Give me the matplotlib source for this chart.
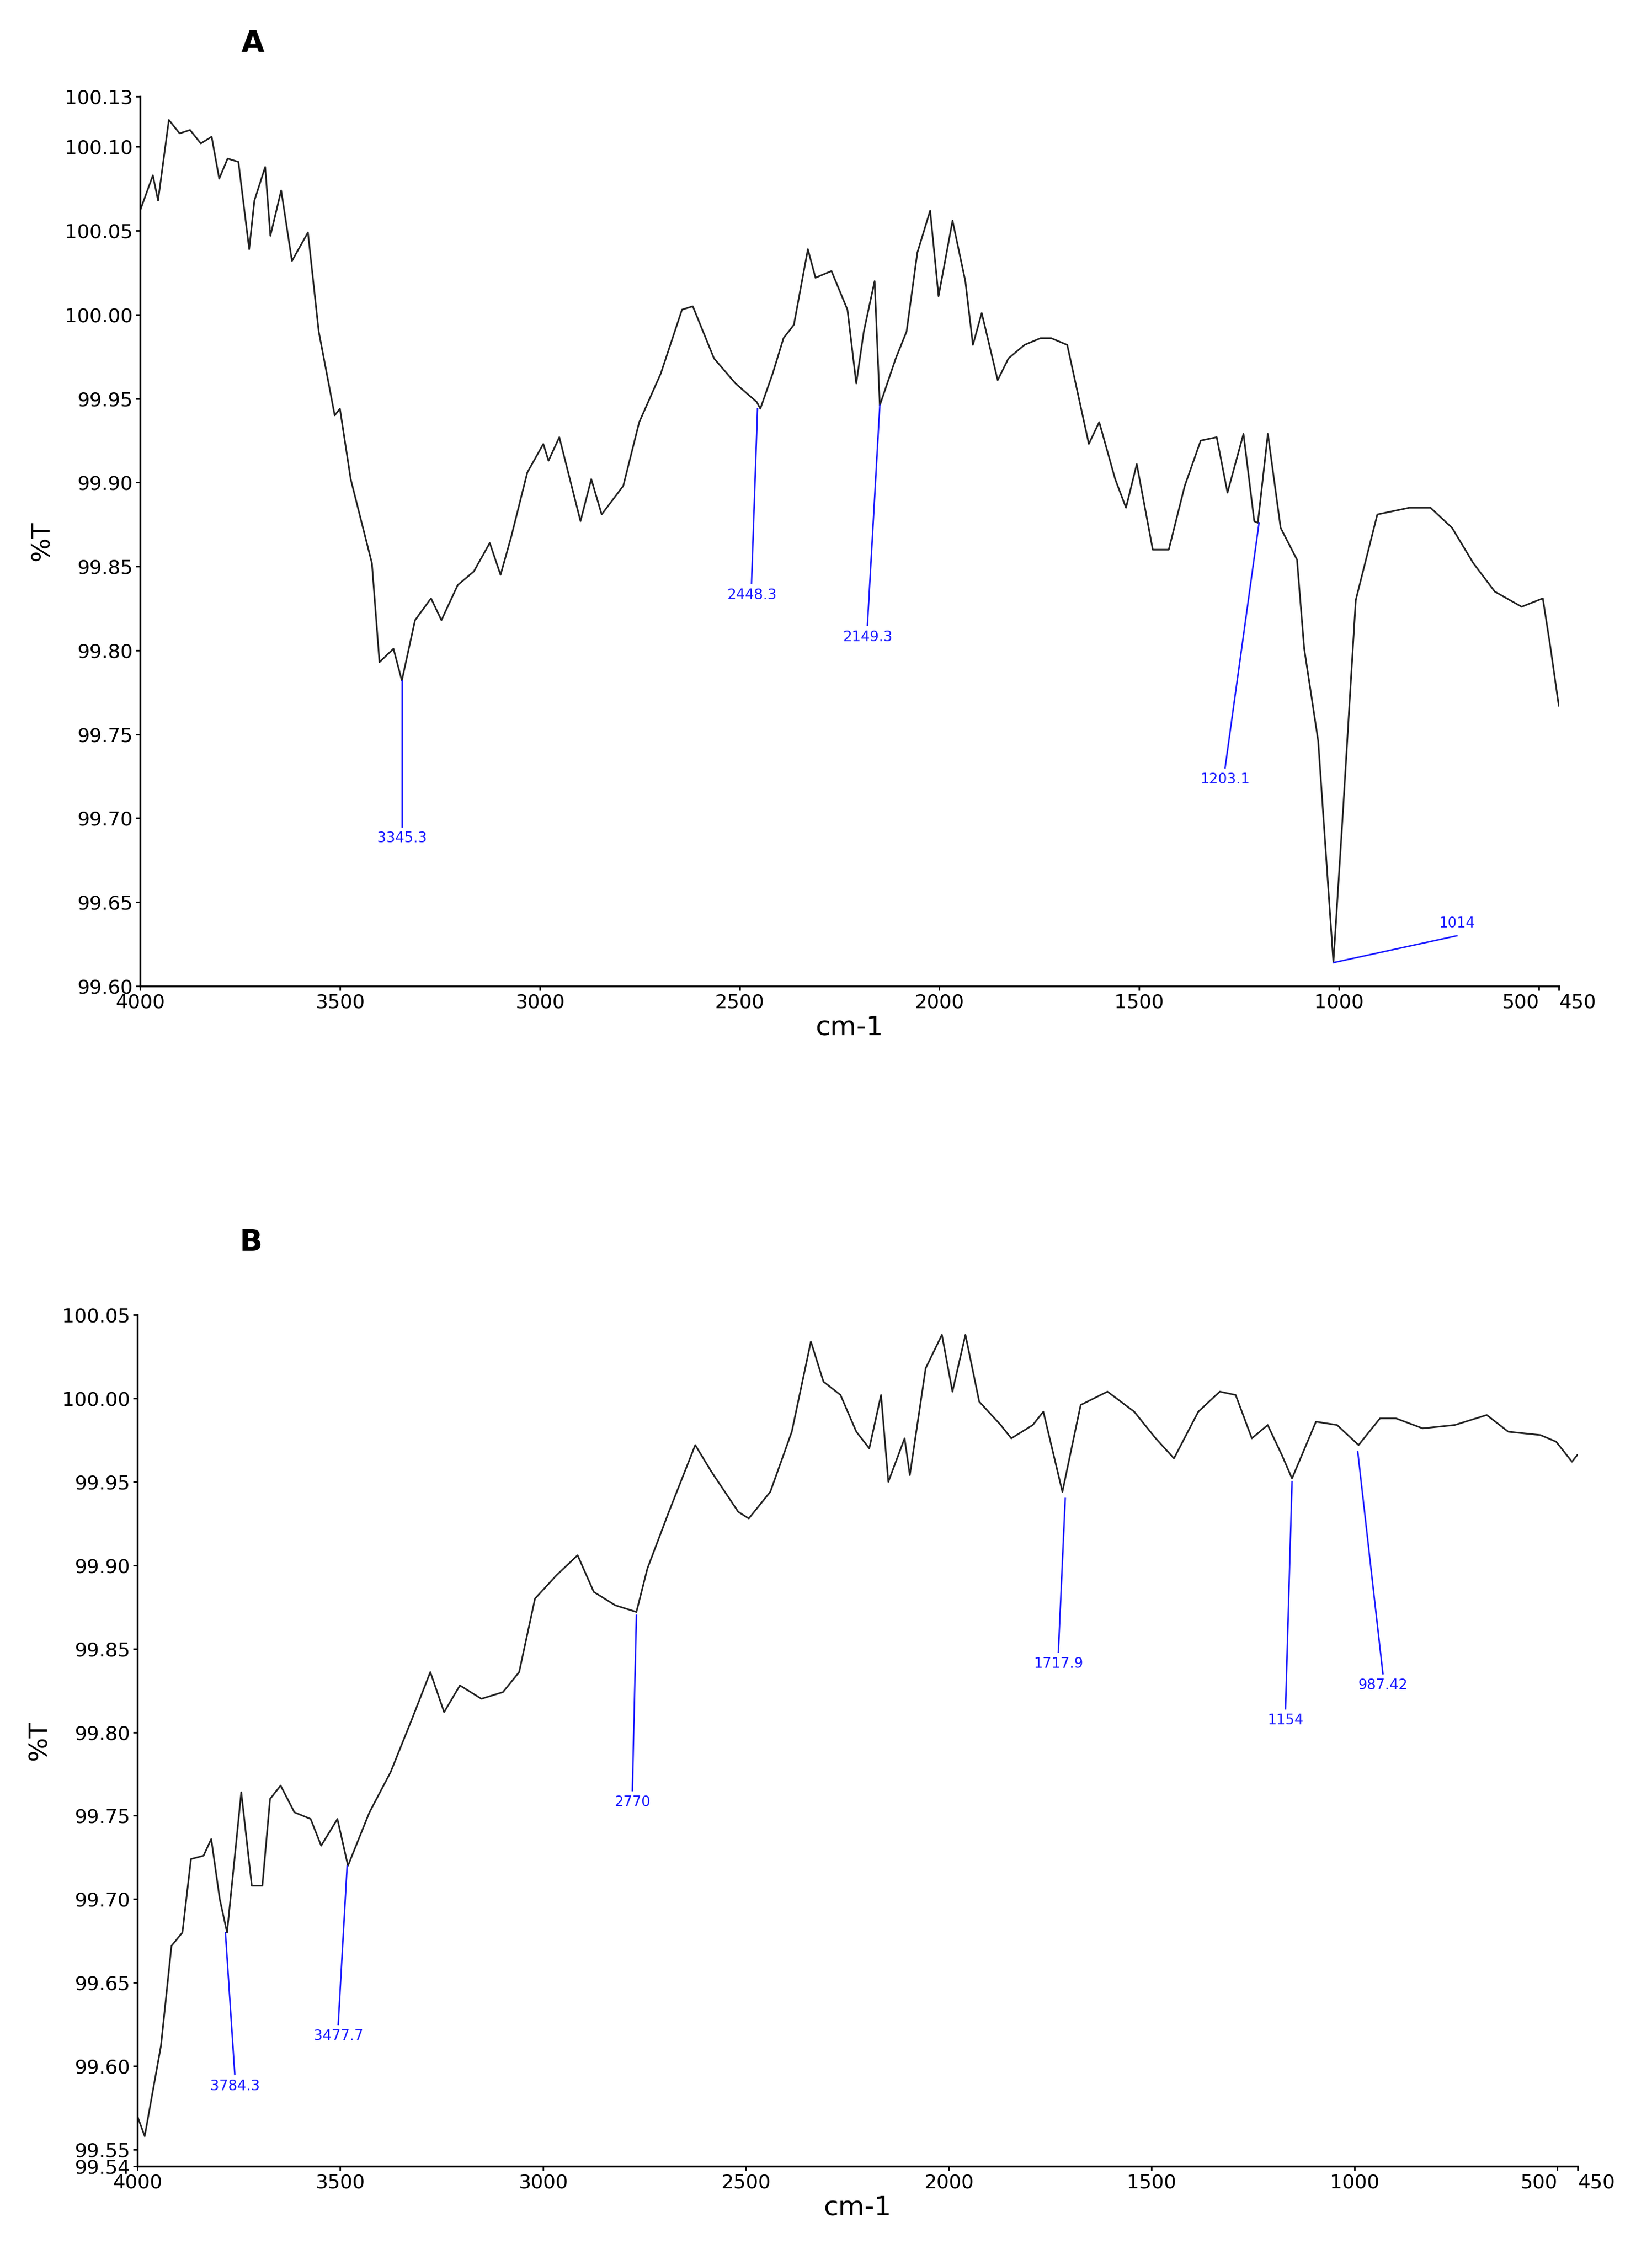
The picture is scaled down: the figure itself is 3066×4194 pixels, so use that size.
import matplotlib.pyplot as plt

plt.rcParams['font.family'] = ['Liberation Sans Narrow', 'DejaVu Sans']

# Spectrum A (wavenumber, %T)
a_x = [4000, 3968, 3955, 3928, 3901, 3875, 3848, 3821, 3802, 3781, 3754, 3727, 3714, 3687,
       3674, 3647, 3620, 3580, 3553, 3513, 3500, 3473, 3420, 3401, 3366, 3345, 3312, 3272,
       3246, 3205, 3165, 3125, 3098, 3071, 3031, 2991, 2978, 2951, 2898, 2871, 2845, 2791,
       2751, 2697, 2644, 2617, 2564, 2510, 2457, 2448, 2417, 2390, 2364, 2329, 2310, 2270,
       2230, 2208, 2189, 2162, 2149, 2109, 2082, 2055, 2023, 2002, 1967, 1935, 1916, 1894,
       1854, 1827, 1787, 1747, 1720, 1680, 1626, 1600, 1560, 1533, 1506, 1466, 1426, 1386,
       1346, 1306, 1279, 1239, 1212, 1203, 1178, 1146, 1105, 1087, 1052, 1014, 990, 958,
       904, 824, 771, 717, 664, 610, 543, 490, 471, 450]
a_y = [100.062, 100.083, 100.068, 100.116, 100.108, 100.110, 100.102, 100.106, 100.081,
       100.093, 100.091, 100.039, 100.068, 100.088, 100.047, 100.074, 100.032, 100.049,
       99.990, 99.940, 99.944, 99.902, 99.852, 99.793, 99.801, 99.782, 99.818, 99.831,
       99.818, 99.839, 99.847, 99.864, 99.845, 99.868, 99.906, 99.923, 99.913, 99.927,
       99.877, 99.902, 99.881, 99.898, 99.936, 99.965, 100.003, 100.005, 99.974, 99.959,
       99.948, 99.944, 99.965, 99.986, 99.994, 100.039, 100.022, 100.026, 100.003, 99.959,
       99.990, 100.020, 99.946, 99.974, 99.990, 100.037, 100.062, 100.011, 100.056, 100.020,
       99.982, 100.001, 99.961, 99.974, 99.982, 99.986, 99.986, 99.982, 99.923, 99.936,
       99.902, 99.885, 99.911, 99.860, 99.860, 99.898, 99.925, 99.927, 99.894, 99.929,
       99.877, 99.876, 99.929, 99.873, 99.854, 99.801, 99.746, 99.614, 99.704, 99.830,
       99.881, 99.885, 99.885, 99.873, 99.852, 99.835, 99.826, 99.831, 99.802, 99.767]

# Spectrum B
b_x = [4000, 3982, 3942, 3916, 3889, 3868, 3837, 3818, 3797, 3779, 3744, 3718, 3692, 3673,
       3647, 3613, 3573, 3547, 3507, 3481, 3428, 3376, 3323, 3278, 3244, 3205, 3152, 3099,
       3059, 3020, 2967, 2915, 2875, 2822, 2770, 2743, 2690, 2625, 2585, 2519, 2493, 2440,
       2387, 2340, 2309, 2267, 2228, 2196, 2167, 2149, 2109, 2096, 2057, 2017, 1991, 1959,
       1925, 1872, 1846, 1793, 1767, 1720, 1675, 1609, 1543, 1490, 1445, 1385, 1332, 1293,
       1253, 1214, 1179, 1154, 1095, 1043, 990, 937, 898, 832, 753, 674, 621, 542, 503,
       464, 451]
b_y = [99.570, 99.558, 99.612, 99.672, 99.680, 99.724, 99.726, 99.736, 99.700, 99.680,
       99.764, 99.708, 99.708, 99.760, 99.768, 99.752, 99.748, 99.732, 99.748, 99.720,
       99.752, 99.776, 99.808, 99.836, 99.812, 99.828, 99.820, 99.824, 99.836, 99.880,
       99.894, 99.906, 99.884, 99.876, 99.872, 99.898, 99.932, 99.972, 99.956, 99.932,
       99.928, 99.944, 99.980, 100.034, 100.010, 100.002, 99.980, 99.970, 100.002, 99.950,
       99.976, 99.954, 100.018, 100.038, 100.004, 100.038, 99.998, 99.984, 99.976, 99.984,
       99.992, 99.944, 99.996, 100.004, 99.992, 99.976, 99.964, 99.992, 100.004, 100.002,
       99.976, 99.984, 99.966, 99.952, 99.986, 99.984, 99.972, 99.988, 99.988, 99.982,
       99.984, 99.990, 99.980, 99.978, 99.974, 99.962, 99.966]

# Peak labels: text, peak (x, y), label end (x, y)
a_peaks = ['3345.3', '2448.3', '2149.3', '1203.1', '1014']
a_peak_xy = [(3345, 99.782), (2455, 99.944), (2149, 99.946), (1200, 99.876), (1014, 99.614)]
a_lab_xy = [(3345, 99.695), (2470, 99.84), (2180, 99.815), (1285, 99.73), (705, 99.63)]
b_peaks = ['3784.3', '3477.7', '2770', '1717.9', '1154', '987.42']
b_peak_xy = [(3783, 99.68), (3483, 99.72), (2770, 99.87), (1713, 99.94), (1154, 99.95), (992, 99.968)]
b_lab_xy = [(3760, 99.595), (3505, 99.625), (2780, 99.765), (1730, 99.848), (1170, 99.814), (930, 99.835)]

a_ticks = [99.60, 99.65, 99.70, 99.75, 99.80, 99.85, 99.90, 99.95, 100.00, 100.05, 100.10, 100.13]
b_ticks = [99.54, 99.55, 99.60, 99.65, 99.70, 99.75, 99.80, 99.85, 99.90, 99.95, 100.00, 100.05]
x_ticks = [4000, 3500, 3000, 2500, 2000, 1500, 1000, 500, 450]

fig = plt.figure(figsize=(30.66, 41.94), dpi=100)
ax_a = fig.add_axes([260/3066, 1 - 1830/4194, (2893-260)/3066, (1830-179)/4194])
ax_b = fig.add_axes([255/3066, 1 - 4020/4194, (2928-255)/3066, (4020-2440)/4194])


def draw(ax, x, y, ylim, yticks, names, pk, lab, last_label):
    ax.plot(x, y, color='#222222', lw=2.2)
    for n, (px, py), (lx, ly) in zip(names, pk, lab):
        ax.plot([px, lx], [py, ly], color='#1a1aff', lw=2)
        if n == last_label:
            ax.text(lx, ly + 0.003, n, color='#1a1aff', fontsize=19, ha='center', va='bottom')
        else:
            ax.text(lx, ly - 0.003, n, color='#1a1aff', fontsize=19, ha='center', va='top')
    ax.set_xlim(4000, 450)
    ax.set_ylim(*ylim)
    ax.set_yticks(yticks)
    ax.set_yticklabels([f'{t:.2f}' for t in yticks])
    ax.set_xticks(x_ticks)
    ax.set_xticklabels(['4000', '3500', '3000', '2500', '2000', '1500', '1000', '500', '450'])
    for lbl in ax.get_xticklabels()[-2:]:
        pass
    ax.get_xticklabels()[-2].set_ha('right')
    ax.get_xticklabels()[-1].set_ha('left')
    ax.spines['top'].set_visible(False)
    ax.spines['right'].set_visible(False)
    ax.spines['left'].set_linewidth(2.5)
    ax.spines['bottom'].set_linewidth(2.5)
    ax.tick_params(labelsize=26, length=6, width=2)
    ax.set_xlabel('cm-1', fontsize=36, labelpad=4)
    ax.set_ylabel('%T', fontsize=34, labelpad=14)


draw(ax_a, a_x, a_y, (99.60, 100.13), a_ticks, a_peaks, a_peak_xy, a_lab_xy, '1014')
draw(ax_b, b_x, b_y, (99.54, 100.05), b_ticks, b_peaks, b_peak_xy, b_lab_xy, None)

fig.text(469/3066, 1 - 80/4194, 'A', fontsize=40, fontweight='bold', ha='center', va='center',
         family='DejaVu Sans')
fig.text(466/3066, 1 - 2306/4194, 'B', fontsize=40, fontweight='bold', ha='center', va='center',
         family='DejaVu Sans')

fig.savefig('out.png', dpi=100)
